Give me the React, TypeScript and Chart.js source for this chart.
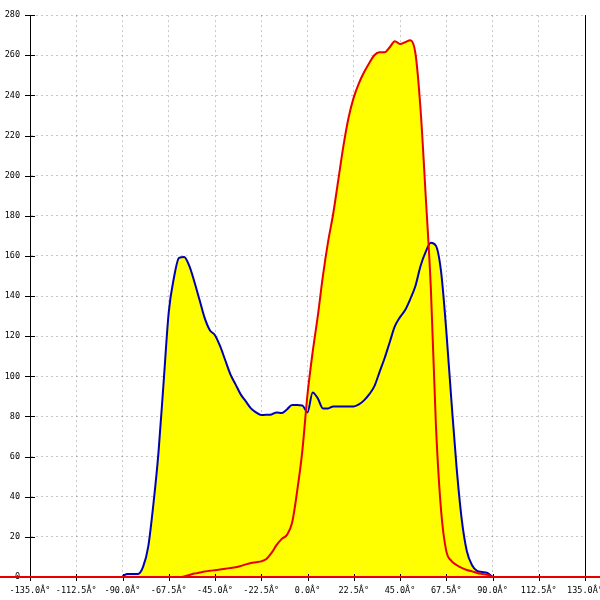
import { useEffect, useRef } from 'react'
import { Chart, registerables } from 'chart.js'

Chart.register(...registerables)

// angle in degrees, shared by both curves
const angles = [
    -90, -87.5, -85, -82.5, -80, -77.5, -75, -72.5, -70, -67.5,
    -65, -62.5, -60, -57.5, -55, -52.5, -50, -47.5, -45, -42.5,
    -40, -37.5, -35, -32.5, -30, -27.5, -25, -22.5, -20, -17.5,
    -15, -12.5, -10, -7.5, -5, -2.5, 0, 2.5, 5, 7.5,
    10, 12.5, 15, 17.5, 20, 22.5, 25, 27.5, 30, 32.5,
    35, 37.5, 40, 42.5, 45, 47.5, 50, 52.5, 55, 57.5,
    60, 62.5, 65, 67.5, 70, 72.5, 75, 77.5, 80, 82.5,
    85, 87.5, 90
]

const blueValues = [
    0.5, 1.5, 1.5, 1.5, 5, 15, 36, 62, 97, 132,
    149, 159, 159.5, 155, 147, 138, 129, 123, 120.5, 115,
    108, 101, 96, 91, 87.5, 84, 82, 80.7, 80.8, 81,
    82, 81.7, 83.5, 85.7, 85.7, 85.5, 82, 92, 89, 84,
    84, 85, 85, 85, 85, 85, 86, 88, 91, 95,
    102, 109, 117, 125, 129.5, 133, 138.5, 145, 155, 162,
    166.5, 165, 152, 123, 88, 55, 29, 13, 6, 3,
    2.5, 2, 0
]

const redValues = [
    0, 0, 0, 0, 0, 0, 0, 0, 0, 0,
    0, 0, 0.3, 1, 1.7, 2.2, 2.7, 3.1, 3.4, 3.7,
    4.1, 4.5, 4.9, 5.5, 6.3, 7, 7.4, 7.8, 9, 12,
    16, 19, 21, 27, 43, 63, 91, 112, 130, 150,
    167, 181, 198, 215, 229, 239, 246, 251.5, 256, 260,
    261.5, 261.5, 264, 267, 265.6, 266.5, 267.5, 261, 233, 190,
    144, 75, 33, 13, 8, 6, 4.5, 3.5, 2.8, 2,
    1.5, 1.1, 0
]

const xMin = -135
const xMax = 135
const xStep = 22.5
const yMax = 280
const yStep = 20

const RED = '#e60000'
const BLUE = '#0000b4'
const FILL = '#ffff00'
const GRID = 'rgba(0,0,0,0.22)'
const tickFont = { family: 'DejaVu Sans Mono', size: 8.5 }

// right border, crossing tick marks and the red zero line across the canvas
const framePlugin = {
    id: 'frame',
    afterDraw(chart: any) {
        const { ctx, chartArea, scales } = chart
        const xs = scales.x
        const ys = scales.y
        ctx.save()
        ctx.strokeStyle = '#000'
        ctx.lineWidth = 1
        ctx.beginPath()
        ctx.moveTo(Math.round(chartArea.right) + 0.5, chartArea.top)
        ctx.lineTo(Math.round(chartArea.right) + 0.5, chartArea.bottom)
        ys.ticks.forEach((t: any) => {
            const py = Math.round(ys.getPixelForValue(t.value)) + 0.5
            ctx.moveTo(chartArea.left - 5, py)
            ctx.lineTo(chartArea.left + 5, py)
        })
        xs.ticks.forEach((t: any) => {
            const px = Math.round(xs.getPixelForValue(t.value)) + 0.5
            ctx.moveTo(px, chartArea.bottom - 3)
            ctx.lineTo(px, chartArea.bottom + 4)
        })
        ctx.stroke()

        const y0 = ys.getPixelForValue(0)
        ctx.strokeStyle = RED
        ctx.lineWidth = 2
        ctx.beginPath()
        ctx.moveTo(0, y0)
        ctx.lineTo(chart.width, y0)
        ctx.stroke()
        ctx.restore()
    }
}

export default function App() {
    const chartRef = useRef<HTMLCanvasElement>(null)
    const chartInstance = useRef<Chart | null>(null)

    useEffect(() => {
        document.body.style.margin = '0'
        if (!chartRef.current) return
        if (chartInstance.current) chartInstance.current.destroy()

        const ctx = chartRef.current.getContext('2d')
        if (!ctx) return

        const redPoints = angles.map((a, i) => ({ x: a, y: redValues[i] }))
        const bluePoints = angles.map((a, i) => ({ x: a, y: blueValues[i] }))

        chartInstance.current = new Chart(ctx, {
            type: 'line',
            data: {
                datasets: [
                    {
                        label: 'red',
                        data: redPoints,
                        borderColor: RED,
                        borderWidth: 2,
                        backgroundColor: FILL,
                        fill: 'origin',
                        pointRadius: 0,
                        cubicInterpolationMode: 'monotone',
                        order: 0
                    },
                    {
                        label: 'blue',
                        data: bluePoints,
                        borderColor: BLUE,
                        borderWidth: 2,
                        backgroundColor: FILL,
                        fill: 'origin',
                        pointRadius: 0,
                        cubicInterpolationMode: 'monotone',
                        order: 1
                    }
                ]
            },
            options: {
                responsive: false,
                animation: false,
                layout: { padding: { top: 15, right: 15, left: 0, bottom: 0 } },
                plugins: {
                    legend: { display: false },
                    tooltip: { enabled: false },
                    filler: { drawTime: 'beforeDatasetsDraw' }
                },
                scales: {
                    x: {
                        type: 'linear',
                        min: xMin,
                        max: xMax,
                        z: 1,
                        afterFit: (s: any) => {
                            s.height = 23
                            s.paddingLeft = 0
                            s.paddingRight = 0
                        },
                        border: { display: false, dash: [2, 3] },
                        grid: {
                            color: GRID,
                            lineWidth: 1,
                            drawTicks: false
                        },
                        ticks: {
                            stepSize: xStep,
                            autoSkip: false,
                            maxRotation: 0,
                            padding: 9,
                            color: '#000',
                            font: tickFont,
                            callback: (v: any) => Number(v).toFixed(1) + 'Â°'
                        }
                    },
                    y: {
                        min: 0,
                        max: yMax,
                        z: 1,
                        afterFit: (s: any) => {
                            s.width = 30
                        },
                        border: { display: true, color: '#000', width: 1, dash: [2, 3] },
                        grid: {
                            color: GRID,
                            lineWidth: 1,
                            drawTicks: false
                        },
                        ticks: {
                            stepSize: yStep,
                            padding: 10,
                            color: '#000',
                            font: tickFont
                        }
                    }
                }
            },
            plugins: [framePlugin]
        })

        return () => {
            if (chartInstance.current) {
                chartInstance.current.destroy()
                chartInstance.current = null
            }
        }
    }, [])

    return (
        <div style={{ width: 600, height: 600 }}>
            <canvas ref={chartRef} width={600} height={600}></canvas>
        </div>
    )
}
